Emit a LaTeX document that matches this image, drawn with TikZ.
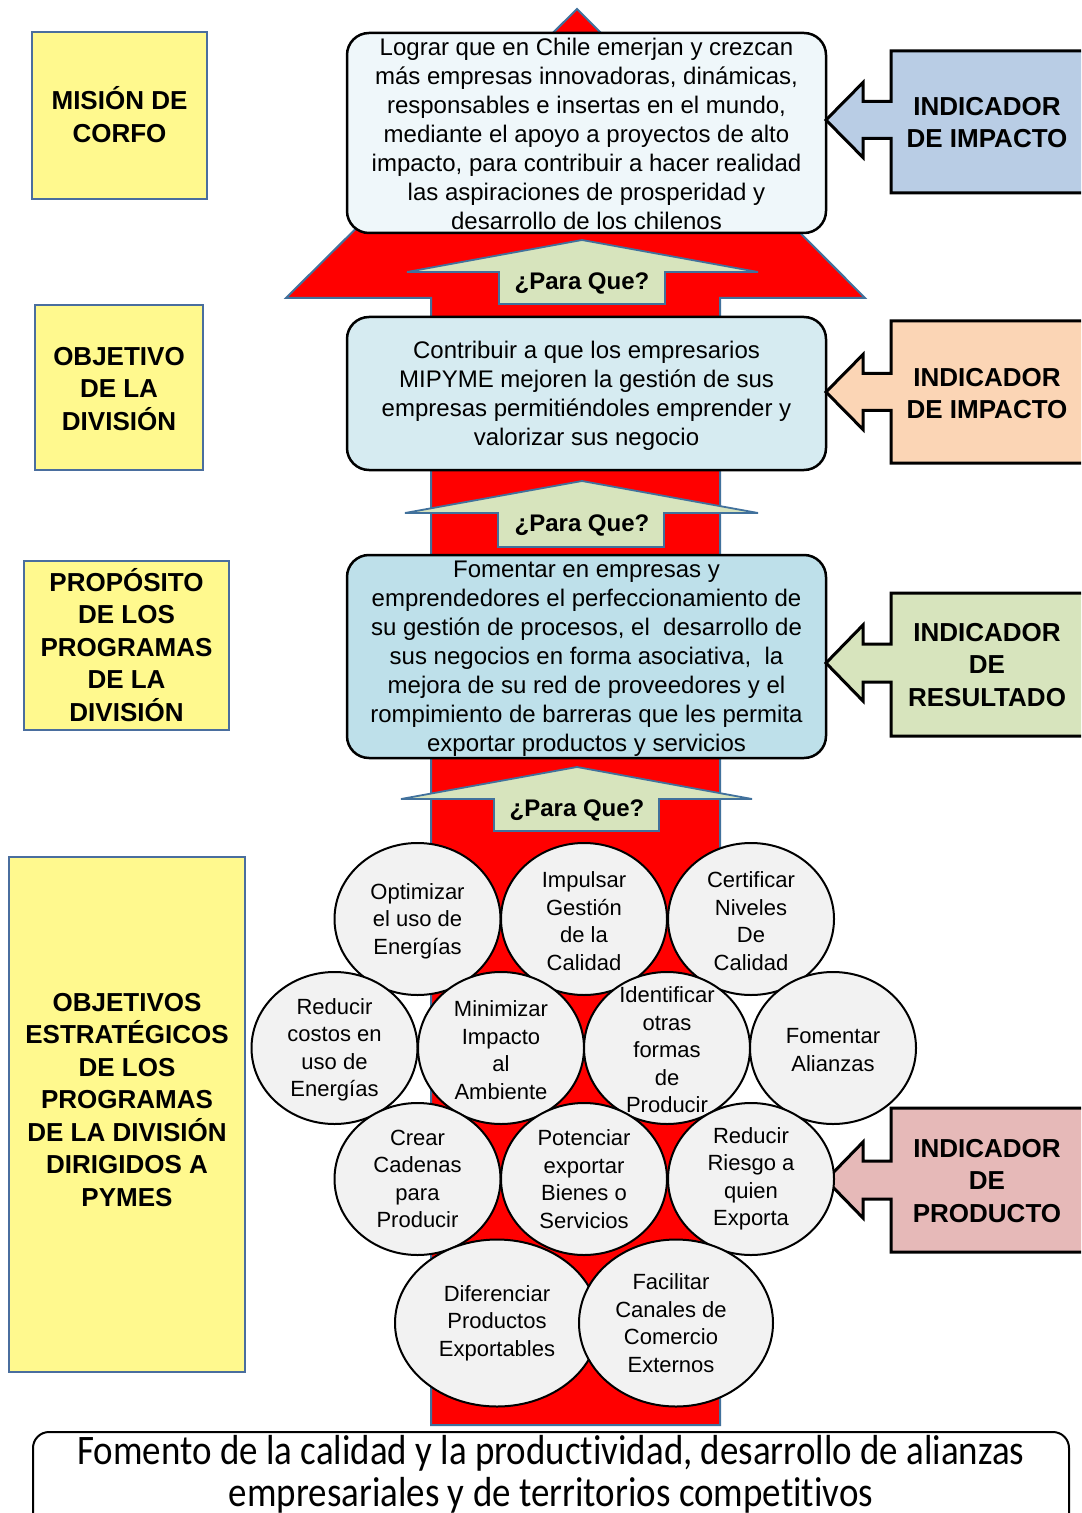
\documentclass[tikz,border=0pt]{standalone}
\usepackage{fontspec}
\setmainfont{Liberation Sans}
\newfontfamily\condfont{Carlito}[FakeStretch=0.88,Ligatures=NoCommon]
\usetikzlibrary{shapes.geometric}
\definecolor{arrowblue}{HTML}{41719C}
\definecolor{pqgreen}{HTML}{D7E4BD}
\definecolor{boxa}{HTML}{EFF7FA}
\definecolor{boxb}{HTML}{D6EBF1}
\definecolor{boxc}{HTML}{BEE0EA}
\definecolor{lyellow}{HTML}{FFF98E}
\definecolor{lblue}{HTML}{4A6E9E}
\definecolor{indblue}{HTML}{B9CDE5}
\definecolor{indorange}{HTML}{FBD5B5}
\definecolor{indgreen}{HTML}{D7E4BD}
\definecolor{indpink}{HTML}{E6B9B8}
\definecolor{cgray}{HTML}{F2F2F2}
\begin{document}
\begin{tikzpicture}[x=0.5pt,y=-0.5pt,
  redarrow/.style={fill=red,draw=arrowblue,line width=1pt,line join=miter},
  pqarrow/.style={fill=pqgreen,draw=arrowblue,line width=0.9pt},
  pqtext/.style={font=\bfseries\fontsize{12}{14}\selectfont,inner sep=0pt},
  mainbox/.style={rectangle,draw=black,line width=1.25pt,rounded corners=11pt,inner sep=0pt},
  maintext/.style={align=center,font=\fontsize{12}{14.5}\selectfont,inner sep=0pt},
  leftbox/.style={rectangle,fill=lyellow,draw=lblue,line width=1.1pt,inner sep=0pt},
  boldtext/.style={align=center,font=\bfseries\fontsize{13}{16.25}\selectfont,inner sep=0pt},
  indshape/.style={draw=black,line width=1.5pt,line join=miter},
  objcircle/.style={ellipse,fill=cgray,draw=black,line width=1pt,inner sep=0pt,minimum width=83pt,minimum height=76pt},
  objtext/.style={align=center,font=\fontsize{11}{13.75}\selectfont,inner sep=0pt}
]
\useasboundingbox (0,0) rectangle (1081,1513);
\clip (0,0) rectangle (1081,1513);

% big red arrow
\draw[redarrow] (577,9) -- (865,298) -- (720,298) -- (720,1425) -- (431,1425) -- (431,298) -- (286,298) -- cycle;

% "Para Que" arrows
\draw[pqarrow] (582,240) -- (758,272) -- (665,272) -- (665,304) -- (499,304) -- (499,272) -- (407,272) -- cycle;
\node[pqtext] (pq1) at (582,283) {¿Para Que?};
\draw[pqarrow] (582,481) -- (758,513) -- (664,513) -- (664,547) -- (498,547) -- (498,513) -- (405,513) -- cycle;
\node[pqtext] (pq2) at (582,525) {¿Para Que?};
\draw[pqarrow] (577,767) -- (752,799) -- (659,799) -- (659,831) -- (494,831) -- (494,799) -- (401,799) -- cycle;
\node[pqtext] (pq3) at (577,810) {¿Para Que?};

% main boxes
\node[mainbox,fill=boxa,minimum width=239.5pt,minimum height=100pt] (m1) at (586.5,133) {};
\node[maintext] (m1t) at (586.5,134) {Lograr que en Chile emerjan y crezcan\\más empresas innovadoras, dinámicas,\\responsables e insertas en el mundo,\\mediante el apoyo a proyectos de alto\\impacto, para contribuir a hacer realidad\\las aspiraciones de prosperidad y\\desarrollo de los chilenos};
\node[mainbox,fill=boxb,minimum width=239.5pt,minimum height=76.5pt] (m2) at (586.5,393.5) {};
\node[maintext] (m2t) at (586.5,396) {Contribuir a que los empresarios\\MIPYME mejoren la gestión de sus\\empresas permitiéndoles emprender y\\valorizar sus negocio};
\node[mainbox,fill=boxc,minimum width=239.5pt,minimum height=101.5pt] (m3) at (586.5,656.5) {};
\node[maintext] (m3t) at (586.5,659) {Fomentar en empresas y\\emprendedores el perfeccionamiento de\\su gestión de procesos, el \ desarrollo de\\sus negocios en forma asociativa, \ la\\mejora de su red de proveedores y el\\rompimiento de barreras que les permita\\exportar productos y servicios};

% left yellow boxes
\node[leftbox,minimum width=87.5pt,minimum height=83.5pt] (l1) at (119.5,115.5) {};
\node[boldtext] (l1t) at (119.5,114.5) {MISIÓN DE\\CORFO};
\node[leftbox,minimum width=84pt,minimum height=82.5pt] (l2) at (119,387.5) {};
\node[boldtext] (l2t) at (119,389) {OBJETIVO\\DE LA\\DIVISIÓN};
\node[leftbox,minimum width=102.5pt,minimum height=84.5pt] (l3) at (126.5,645.5) {};
\node[boldtext] (l3t) at (126.5,645) {PROPÓSITO\\DE LOS\\PROGRAMAS\\DE LA\\DIVISIÓN};
\node[leftbox,minimum width=118pt,minimum height=257.5pt] (l4) at (127,1114.5) {};
\node[boldtext] (l4t) at (127,1100) {OBJETIVOS\\ESTRATÉGICOS\\DE LOS\\PROGRAMAS\\DE LA DIVISIÓN\\DIRIGIDOS A\\PYMES};

% indicator callouts
\draw[indshape,fill=indblue] (1090,51) -- (891,51) -- (891,101.5) -- (863,101.5) -- (863,82.5) -- (826,120) -- (863,157.5) -- (863,138.5) -- (891,138.5) -- (891,193) -- (1090,193) -- cycle;
\node[boldtext] (i1) at (987,122.5) {INDICADOR\\DE IMPACTO};
\draw[indshape,fill=indorange] (1090,321) -- (891,321) -- (891,373.5) -- (863,373.5) -- (863,354.5) -- (826,392) -- (863,429.5) -- (863,410.5) -- (891,410.5) -- (891,463) -- (1090,463) -- cycle;
\node[boldtext] (i2) at (987,393.5) {INDICADOR\\DE IMPACTO};
\draw[indshape,fill=indgreen] (1090,593) -- (891,593) -- (891,644) -- (863,644) -- (863,625) -- (826,663) -- (863,701) -- (863,682) -- (891,682) -- (891,736) -- (1090,736) -- cycle;
\node[boldtext] (i3) at (987,665) {INDICADOR\\DE\\RESULTADO};
\draw[indshape,fill=indpink] (1090,1108) -- (891,1108) -- (891,1161) -- (863,1161) -- (863,1142) -- (826,1180) -- (863,1218) -- (863,1199) -- (891,1199) -- (891,1252) -- (1090,1252) -- cycle;
\node[boldtext] (i4) at (987,1181) {INDICADOR\\DE\\PRODUCTO};

% strategic objective circles
\node[objcircle] (c1) at (417.5,919) {};
\node[objtext] at ([yshift=-1pt]c1.center) {Optimizar\\el uso de\\Energías};
\node[objcircle] (c2) at (584,919) {};
\node[objtext] at ([yshift=-1pt]c2.center) {Impulsar\\Gestión\\de la\\Calidad};
\node[objcircle] (c3) at (751,919) {};
\node[objtext] at ([yshift=-1pt]c3.center) {Certificar\\Niveles\\De\\Calidad};

\node[objcircle] (c4) at (334.5,1048) {};
\node[objtext] at ([yshift=-1pt]c4.center) {Reducir\\costos en\\uso de\\Energías};
\node[objcircle] (c5) at (501,1048) {};
\node[objtext] at ([yshift=-1pt]c5.center) {Minimizar\\Impacto\\al\\Ambiente};
\node[objcircle] (c6) at (667,1048) {};
\node[objtext] at ([yshift=-1pt]c6.center) {Identificar\\otras\\formas\\de\\Producir};
\node[objcircle] (c7) at (833,1048) {};
\node[objtext] at ([yshift=-1pt]c7.center) {Fomentar\\Alianzas};

\node[objcircle] (c8) at (417.5,1179) {};
\node[objtext] at (c8) {Crear\\Cadenas\\para\\Producir};
\node[objcircle] (c9) at (584,1179) {};
\node[objtext] at (c9) {Potenciar\\exportar\\Bienes o\\Servicios};
\node[objcircle] (c10) at (751,1179) {};
\node[objtext] at (c10) {Reducir\\Riesgo a\\quien\\Exporta};

\node[objcircle,minimum width=102pt,minimum height=83.5pt] (c11) at (497,1323) {};
\node[objtext] at (c11) {Diferenciar\\Productos\\Exportables};
\node[objcircle,minimum width=97pt,minimum height=83.5pt] (c12) at (676,1323) {};
\node[objtext] at ([xshift=-2.5pt]c12.center) {Facilitar\\Canales de\\Comercio\\Externos};

% bottom box
\node[rectangle,draw=black,fill=white,line width=1pt,rounded corners=8pt,minimum width=518pt,minimum height=50pt,inner sep=0pt] (base) at (551,1482) {};
\node[align=center,inner sep=0pt,font=\condfont\fontsize{21}{21}\selectfont] (baset) at (551,1474) {Fomento de la calidad y la productividad, desarrollo de alianzas\\empresariales y de territorios competitivos};
\end{tikzpicture}
\end{document}
